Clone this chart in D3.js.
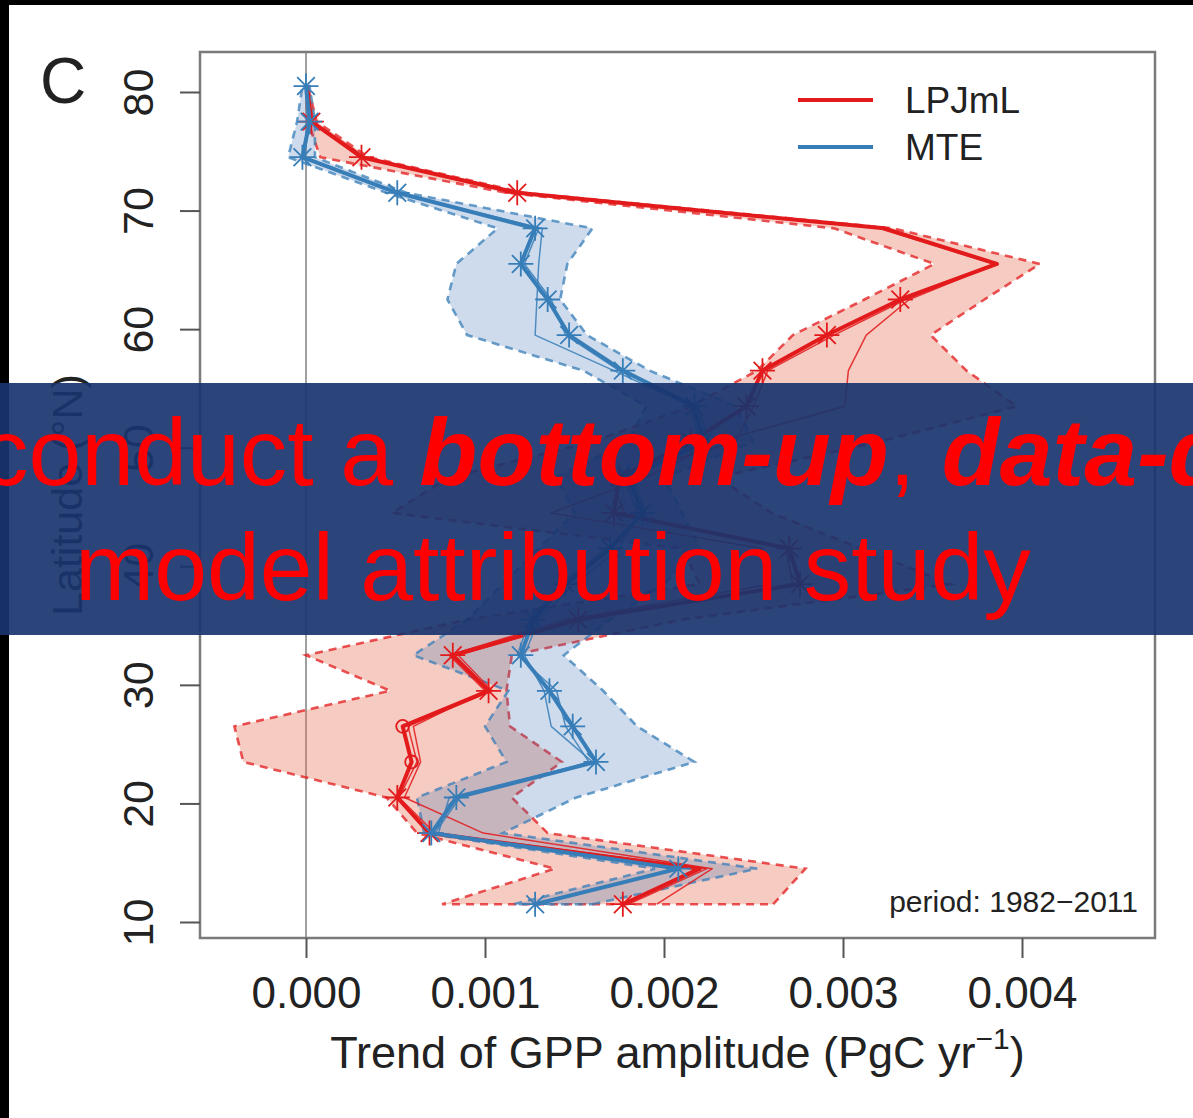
<!DOCTYPE html>
<html>
<head>
<meta charset="utf-8">
<script src="https://cdn.jsdelivr.net/npm/d3@7"></script>
<style>
  html, body { margin: 0; padding: 0; background: #fff; }
  svg { display: block; font-family: "Liberation Sans", Arial, Helvetica, sans-serif; }
</style>
</head>
<body>
<script>
// latitude band centres (°N), south to north
const lat = [11.5, 14.5, 17.5, 20.5, 23.5, 26.5, 29.5, 32.5, 35.5, 38.5, 41.5, 44.5,
             47.5, 50.5, 53.5, 56.5, 59.5, 62.5, 65.5, 68.5, 71.5, 74.5, 77.5, 80.5];

// trend of GPP amplitude, in 10^-3 PgC yr-1
const lpjmlMean = [1.77, 2.20, 0.69, 0.51, 0.59, 0.54, 1.02, 0.82, 1.52, 2.76, 2.70, 1.72,
                   1.75, 2.15, 2.46, 2.55, 2.91, 3.32, 3.86, 3.23, 1.18, 0.31, 0.03, 0.005];
const lpjmlVarA = [1.96, 2.27, 0.99, 0.55, 0.64, 0.60, 1.00, 0.80, 1.45, 2.60, 2.55, 1.37,
                   1.90, 2.30, 3.01, 3.03, 3.13, 3.37, 3.86, 3.25, 1.20, 0.33, 0.04, 0.005];
const lpjmlVarB = [1.80, 2.24, 0.72, 0.52, 0.62, 0.57, 1.04, 0.85, 1.55, 2.72, 2.68, 1.78,
                   1.70, 2.40, 2.50, 2.58, 2.95, 3.35, 3.84, 3.20, 1.16, 0.30, 0.03, 0.005];
const lpjmlLow  = [0.76, 1.39, 0.62, 0.45, -0.35, -0.40, 0.47, 0.00, 0.90, 2.20, 2.10, 0.48,
                   0.80, 1.60, 2.15, 2.52, 2.72, 3.12, 3.51, 2.95, 1.12, 0.08, 0.01, 0.00];
const lpjmlHigh = [2.61, 2.79, 1.35, 1.15, 1.43, 1.14, 1.12, 1.15, 2.10, 3.60, 3.10, 2.60,
                   2.30, 3.20, 3.97, 3.69, 3.49, 3.79, 4.10, 3.28, 1.22, 0.35, 0.06, 0.01];
// point symbol of each LPJmL latitude (star = significant trend)
const lpjmlMark = ['star', 'none', 'star', 'star', 'circle', 'circle', 'star', 'star',
                   'star', 'star', 'star', 'star', 'star', 'star', 'star', 'star',
                   'star', 'star', 'none', 'none', 'star', 'star', 'star', 'none'];

const mteMean = [1.28, 2.08, 0.70, 0.84, 1.62, 1.49, 1.36, 1.20, 1.27, 1.45, 1.70, 1.88,
                 1.80, 2.22, 2.17, 1.77, 1.47, 1.35, 1.20, 1.28, 0.51, -0.02, 0.02, 0.00];
const mteVarA  = [1.30, 2.05, 0.74, 0.80, 1.60, 1.37, 1.33, 1.22, 1.30, 1.50, 1.75, 1.85,
                  1.78, 2.20, 2.15, 1.72, 1.28, 1.29, 1.30, 1.32, 0.50, -0.01, 0.02, 0.00];
const mteVarB  = [1.26, 2.10, 0.72, 0.86, 1.58, 1.45, 1.40, 1.18, 1.25, 1.42, 1.68, 1.90,
                  1.82, 2.25, 2.19, 1.75, 1.45, 1.37, 1.22, 1.30, 0.52, -0.02, 0.02, 0.00];
const mteLow   = [1.16, 1.95, 0.66, 0.62, 1.12, 1.00, 1.13, 0.60, 0.90, 1.10, 1.30, 1.50,
                  1.40, 1.80, 1.90, 1.55, 0.90, 0.79, 0.84, 1.07, 0.45, -0.10, -0.05, -0.02];
const mteHigh  = [1.60, 2.52, 1.10, 1.51, 2.17, 1.85, 1.66, 1.44, 1.70, 2.00, 2.20, 2.10,
                  2.00, 2.50, 2.40, 1.92, 1.57, 1.42, 1.46, 1.60, 0.56, 0.05, 0.05, 0.02];
const mteMark  = lat.map(() => 'star');

// axes
const xTicks = [0, 1, 2, 3, 4];
const xTickLabels = ['0.000', '0.001', '0.002', '0.003', '0.004'];
const yTicks = [10, 20, 30, 40, 50, 60, 70, 80];

const legendNames = ['LPJmL', 'MTE'];

const W = 1193, H = 1118;
const box = {left: 200, top: 52, right: 1155, bottom: 938};
const red = '#e31a1c', blue = '#377eb8';

const svg = d3.select('body').append('svg')
    .attr('width', W)
    .attr('height', H);

svg.append('rect').attr('width', W).attr('height', H).attr('fill', '#fff');

const x = d3.scaleLinear().domain([0, 4]).range([306, 1022]);
const y = d3.scaleLinear().domain([10, 80]).range([922, 92]);

// clip to the plot region
svg.append('clipPath').attr('id', 'plotclip')
    .append('rect')
    .attr('x', box.left).attr('y', box.top)
    .attr('width', box.right - box.left).attr('height', box.bottom - box.top);

const plot = svg.append('g').attr('clip-path', 'url(#plotclip)');

// zero line
plot.append('line')
    .attr('x1', x(0)).attr('x2', x(0))
    .attr('y1', box.top).attr('y2', box.bottom)
    .attr('stroke', '#a0a0a0').attr('stroke-width', 2);

const band = d3.area()
    .y(d => y(d.lat))
    .x0(d => x(d.lo))
    .x1(d => x(d.hi));

// uncertainty bands (dashed border polygon)
const drawBand = (lo, hi, fill, fillOp, stroke) => {
    plot.append('path')
        .attr('d', band(lat.map((l, i) => ({lat: l, lo: lo[i], hi: hi[i]}))))
        .attr('fill', fill)
        .attr('fill-opacity', fillOp)
        .attr('stroke', stroke)
        .attr('stroke-opacity', 0.75)
        .attr('stroke-width', 2.6)
        .attr('stroke-dasharray', '8,6');
};
drawBand(lpjmlLow, lpjmlHigh, '#e66e50', 0.35, red);
drawBand(mteLow, mteHigh, '#3c6eb4', 0.25, blue);

const line = d3.line()
    .x(d => x(d.v))
    .y(d => y(d.lat));

const drawLine = (vals, col, w, op) => {
    plot.append('path')
        .attr('d', line(lat.map((l, i) => ({lat: l, v: vals[i]}))))
        .attr('fill', 'none')
        .attr('stroke', col)
        .attr('stroke-width', w)
        .attr('stroke-opacity', op)
        .attr('stroke-linejoin', 'round');
};

// asterisk marker, like R pch = 8
const star = r => {
    const k = r * 0.7071;
    return `M0,${-r}V${r}M${-r},0H${r}M${-k},${-k}L${k},${k}M${-k},${k}L${k},${-k}`;
};
const circle = d3.symbol().type(d3.symbolCircle).size(130)();

const drawMarks = (vals, marks, col) => {
    plot.append('g').selectAll('path')
        .data(lat.map((l, i) => ({lat: l, v: vals[i], m: marks[i]})).filter(d => d.m !== 'none'))
        .join('path')
        .attr('transform', d => `translate(${x(d.v)},${y(d.lat)})`)
        .attr('d', d => d.m === 'star' ? star(12.5) : circle)
        .attr('fill', 'none')
        .attr('stroke', col)
        .attr('stroke-width', 1.8);
};

drawLine(lpjmlVarA, red, 1.5, 0.85);
drawLine(lpjmlVarB, red, 1.5, 0.85);
drawLine(lpjmlMean, red, 4, 1);
drawMarks(lpjmlMean, lpjmlMark, red);

drawLine(mteVarA, blue, 1.5, 0.85);
drawLine(mteVarB, blue, 1.5, 0.85);
drawLine(mteMean, blue, 4, 1);
drawMarks(mteMean, mteMark, blue);

// frame
svg.append('rect')
    .attr('x', box.left).attr('y', box.top)
    .attr('width', box.right - box.left).attr('height', box.bottom - box.top)
    .attr('fill', 'none').attr('stroke', '#7a7a7a').attr('stroke-width', 2.5);

// x axis
const xAxis = svg.append('g')
    .attr('transform', `translate(0,${box.bottom})`)
    .call(d3.axisBottom(x).tickValues(xTicks).tickSize(20)
        .tickFormat((d, i) => xTickLabels[i]));
xAxis.select('.domain').remove();
xAxis.selectAll('line').attr('stroke', '#555').attr('stroke-width', 2);
xAxis.selectAll('text')
    .attr('y', 70).attr('dy', null)
    .attr('font-size', 44).attr('fill', '#222');

// y axis
const yAxis = svg.append('g')
    .attr('transform', `translate(${box.left},0)`)
    .call(d3.axisLeft(y).tickValues(yTicks).tickSize(20));
yAxis.select('.domain').remove();
yAxis.selectAll('line').attr('stroke', '#555').attr('stroke-width', 2);
yAxis.selectAll('text')
    .attr('x', null).attr('dy', null)
    .attr('transform', 'translate(-47,0) rotate(-90)')
    .attr('text-anchor', 'middle')
    .attr('font-size', 43).attr('fill', '#222');

// axis titles
const xt = svg.append('text')
    .attr('x', (box.left + box.right) / 2).attr('y', 1068)
    .attr('text-anchor', 'middle').attr('font-size', 45).attr('fill', '#222');
xt.append('tspan').text('Trend of GPP amplitude (PgC yr');
xt.append('tspan').attr('font-size', 30).attr('dy', -19).text('\u22121');
xt.append('tspan').attr('dy', 19).text(')');

svg.append('text')
    .attr('transform', `translate(82,${(box.top + box.bottom) / 2}) rotate(-90)`)
    .attr('text-anchor', 'middle').attr('font-size', 43).attr('fill', '#222')
    .text('Latitude (\u00b0N)');

// panel letter
svg.append('text')
    .attr('x', 40).attr('y', 103)
    .attr('font-size', 64).attr('fill', '#222')
    .text('C');

// legend
const legend = svg.append('g');
[red, blue].forEach((c, i) => {
    legend.append('line')
        .attr('x1', 798).attr('x2', 873)
        .attr('y1', 100 + i * 47).attr('y2', 100 + i * 47)
        .attr('stroke', c).attr('stroke-width', 4);
    legend.append('text')
        .attr('x', 905).attr('y', 113 + i * 47)
        .attr('font-size', 37).attr('fill', '#222')
        .text(legendNames[i]);
});

svg.append('text')
    .attr('x', 1138).attr('y', 912)
    .attr('text-anchor', 'end').attr('font-size', 30).attr('fill', '#222')
    .text('period: 1982\u22122011');

// black edge of the screenshot
svg.append('rect').attr('x', 0).attr('y', 0).attr('width', W).attr('height', 5).attr('fill', '#000');
svg.append('rect').attr('x', 0).attr('y', 0).attr('width', 9).attr('height', H).attr('fill', '#000');

// overlay banner
svg.append('rect')
    .attr('x', 0).attr('y', 383)
    .attr('width', W).attr('height', 252)
    .attr('fill', 'rgb(25,52,110)').attr('fill-opacity', 0.92);

const t1 = svg.append('text')
    .attr('x', -19).attr('y', 485)
    .attr('font-size', 95).attr('fill', '#ff0000');
t1.append('tspan').text('conduct a ');
t1.append('tspan').attr('font-weight', 'bold').attr('font-style', 'italic').text('bottom-up');
t1.append('tspan').text(', ');
t1.append('tspan').attr('font-weight', 'bold').attr('font-style', 'italic').text('data-driven');

svg.append('text')
    .attr('x', 75).attr('y', 600)
    .attr('font-size', 95).attr('fill', '#ff0000')
    .text('model attribution study');
</script>
</body>
</html>
